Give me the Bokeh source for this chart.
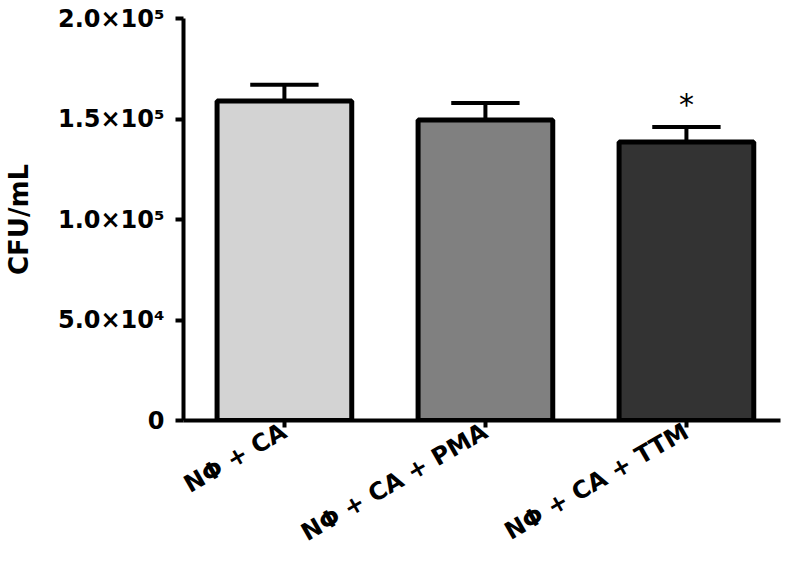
import math
from bokeh.plotting import figure
from bokeh.models import Range1d, FixedTicker, ColumnDataSource
from bokeh.embed import file_html
from bokeh.resources import INLINE
from bokeh.core.properties import value

groups = ["NΦ + CA", "NΦ + CA + PMA", "NΦ + CA + TTM"]
means = [1.59e5, 1.495e5, 1.385e5]
errs = [0.08e5, 0.085e5, 0.075e5]
bar_colors = ["#d3d3d3", "#808080", "#333333"]
significance = ["", "", "*"]
y_ticks = [0, 50000, 100000, 150000, 200000]
y_tick_labels = ["0", "5.0×10⁴", "1.0×10⁵", "1.5×10⁵", "2.0×10⁵"]
y_label = "CFU/mL"

xs = list(range(len(groups)))
upper = [m + e for m, e in zip(means, errs)]
cap_half = 0.17

p = figure(width=790, height=563, x_range=Range1d(-0.502, 2.468), y_range=Range1d(0, 2e5),
           output_backend="svg", toolbar_location=None,
           min_border_left=183, min_border_right=10, min_border_top=18, min_border_bottom=143)
p.outline_line_color = None
p.xgrid.grid_line_color = None
p.ygrid.grid_line_color = None

src = ColumnDataSource(dict(x=xs, top=means, upper=upper, color=bar_colors,
                            cl=[x - cap_half for x in xs], cr=[x + cap_half for x in xs],
                            sig=significance))

p.segment(x0="x", y0="top", x1="x", y1="upper", source=src, line_color="black", line_width=4)
p.segment(x0="cl", y0="upper", x1="cr", y1="upper", source=src, line_color="black", line_width=4)
p.vbar(x="x", top="top", width=0.67, fill_color="color", line_color="black", line_width=5, source=src)
p.text(x="x", y="upper", text="sig", source=src, text_align="center", text_baseline="bottom",
       y_offset=-5, text_font=value("DejaVu Sans"), text_font_size="30px", text_color="black")

for ax in (p.xaxis[0], p.yaxis[0]):
    ax.axis_line_width = 4
    ax.axis_line_color = "black"
    ax.major_tick_line_width = 4
    ax.major_tick_in = 0
    ax.major_tick_out = 8
    ax.minor_tick_line_color = None
    ax.major_label_text_font_style = "bold"
    ax.major_label_text_color = "black"

p.yaxis.ticker = FixedTicker(ticks=y_ticks)
p.yaxis.major_label_overrides = {t: l for t, l in zip(y_ticks, y_tick_labels)}
p.yaxis.major_label_text_font = "DejaVu Sans"
p.yaxis.major_label_text_font_size = "24px"
p.yaxis.major_label_standoff = 11
p.yaxis.axis_label = y_label
p.yaxis.axis_label_text_font = "DejaVu Sans"
p.yaxis.axis_label_text_font_style = "bold"
p.yaxis.axis_label_text_color = "black"
p.yaxis.axis_label_text_font_size = "26px"
p.yaxis.axis_label_standoff = 21

p.xaxis.ticker = FixedTicker(ticks=xs)
p.xaxis.major_label_overrides = {x: g for x, g in zip(xs, groups)}
p.xaxis.major_label_orientation = math.pi / 6
p.xaxis.major_label_text_font = "DejaVu Sans"
p.xaxis.major_label_text_font_size = "24px"
p.xaxis.major_tick_out = 7
p.xaxis.major_label_standoff = 2

open("out.html", "w").write(file_html(p, INLINE))
